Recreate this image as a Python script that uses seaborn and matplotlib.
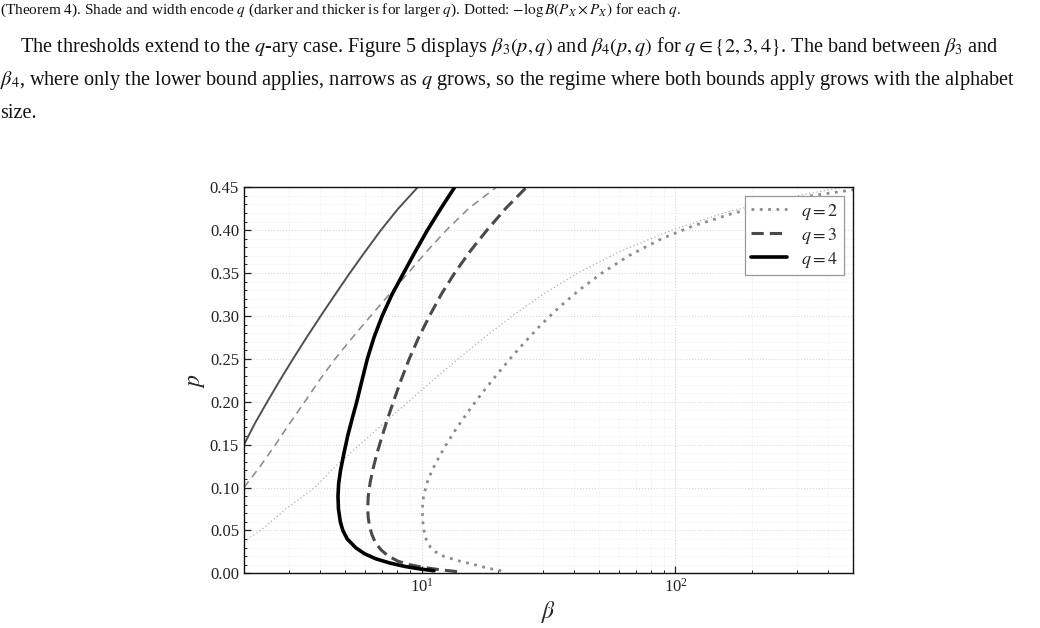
import numpy as np
import pandas as pd
import matplotlib
matplotlib.use("Agg")
import matplotlib.pyplot as plt
import seaborn as sns
from matplotlib.ticker import MultipleLocator, LogLocator, NullFormatter

# ---- data ----
# thick curves (one per q)
p_q2 = [0.003, 0.006, 0.010, 0.015, 0.020, 0.025, 0.030, 0.040, 0.050, 0.060, 0.075, 0.090,
        0.105, 0.120, 0.135, 0.150, 0.170, 0.190, 0.210, 0.230, 0.250, 0.270, 0.290, 0.310,
        0.330, 0.350, 0.370, 0.390, 0.405, 0.420, 0.432, 0.440, 0.447]
b_q2 = [20.6, 18.2, 16.2, 13.8, 12.2, 11.35, 10.86, 10.42, 10.23, 10.12, 10.07, 10.19,
        10.5, 11.0, 11.7, 12.5, 13.8, 15.4, 17.3, 19.6, 22.3, 25.6, 29.6, 34.8,
        41.7, 51.3, 65.3, 88.1, 117.5, 170.0, 251.0, 339.0, 500.0]

p_q3 = [0.002, 0.004, 0.007, 0.010, 0.014, 0.020, 0.027, 0.035, 0.045, 0.055, 0.065, 0.075,
        0.090, 0.105, 0.120, 0.140, 0.160, 0.180, 0.200, 0.225, 0.250, 0.275, 0.300, 0.325,
        0.350, 0.375, 0.400, 0.425, 0.450]
b_q3 = [13.8, 11.9, 10.1, 9.0, 8.1, 7.4, 6.95, 6.6, 6.38, 6.24, 6.17, 6.14,
        6.17, 6.27, 6.42, 6.68, 7.0, 7.35, 7.75, 8.3, 8.95, 9.75, 10.75, 11.95,
        13.5, 15.5, 18.1, 21.4, 25.9]

p_q4 = [0.003, 0.005, 0.008, 0.012, 0.017, 0.023, 0.030, 0.040, 0.050, 0.060, 0.075, 0.090,
        0.105, 0.120, 0.140, 0.160, 0.180, 0.200, 0.225, 0.250, 0.275, 0.300, 0.325, 0.350,
        0.375, 0.400, 0.425, 0.450]
b_q4 = [11.2, 9.9, 8.6, 7.5, 6.6, 5.95, 5.5, 5.1, 4.9, 4.79, 4.71, 4.69,
        4.72, 4.8, 4.95, 5.12, 5.33, 5.56, 5.83, 6.12, 6.5, 7.0, 7.65, 8.5,
        9.45, 10.55, 11.9, 13.5]

# thin curves (one per q)
p_t2 = [0.037, 0.05, 0.075, 0.10, 0.125, 0.15, 0.175, 0.20, 0.225, 0.25, 0.275, 0.30,
        0.325, 0.35, 0.375, 0.40, 0.42, 0.435, 0.45]
b_t2 = [2.0, 2.33, 2.92, 3.80, 4.59, 5.71, 7.11, 8.87, 11.09, 13.96, 17.7, 22.8,
        30.0, 41.2, 60.3, 96.6, 155.0, 245.0, 457.0]

p_t3 = [0.10, 0.125, 0.15, 0.175, 0.20, 0.225, 0.25, 0.275, 0.30, 0.325, 0.35, 0.375,
        0.40, 0.425, 0.45]
b_t3 = [2.0, 2.32, 2.66, 3.03, 3.47, 3.96, 4.57, 5.35, 6.31, 7.46, 8.85, 10.47,
        12.53, 15.3, 19.7]

p_t4 = [0.15, 0.175, 0.20, 0.225, 0.25, 0.275, 0.30, 0.325, 0.35, 0.375, 0.40, 0.425, 0.45]
b_t4 = [2.0, 2.21, 2.47, 2.77, 3.12, 3.53, 4.01, 4.57, 5.22, 6.0, 6.92, 8.09, 9.66]

q_labels = ["$q=2$", "$q=3$", "$q=4$"]
y_ticks = [0.00, 0.05, 0.10, 0.15, 0.20, 0.25, 0.30, 0.35, 0.40, 0.45]

caption = (r"(Theorem 4). Shade and width encode $q$ (darker and thicker is for larger $q$). "
           r"Dotted: $-\log B(P_X \times P_X)$ for each $q$.")
para1 = (r"The thresholds extend to the $q$-ary case. Figure 5 displays $\beta_3(p,q)$ and "
         r"$\beta_4(p,q)$ for $q \in \{2,3,4\}$. The band between $\beta_3$ and")
para2 = (r"$\beta_4$, where only the lower bound applies, narrows as $q$ grows, so the regime "
         r"where both bounds apply grows with the alphabet")
para3 = "size."

# ---- styling ----
sns.set_theme(style="white")
plt.rcParams["font.family"] = ["Liberation Serif", "DejaVu Serif"]
plt.rcParams["mathtext.fontset"] = "stix"

fig = plt.figure(figsize=(10.4, 6.28), dpi=100)
ax = fig.add_axes([0.2346, 0.0871, 0.8202 - 0.2346, 0.7018 - 0.0871])

def draw(b, p, color, lw, ls, label=None):
    df = pd.DataFrame({"beta": b, "p": p})
    sns.lineplot(data=df, x="beta", y="p", sort=False, estimator=None, ax=ax,
                 color=color, linewidth=lw, linestyle=ls, label=label)

# thin curves
draw(b_t2, p_t2, "#b0b0b0", 0.9, (0, (1, 2)))
draw(b_t3, p_t3, "#888888", 1.1, (0, (5, 3.5)))
draw(b_t4, p_t4, "#505050", 1.4, "-")
# thick curves
draw(b_q2, p_q2, "#8c8c8c", 2.0, (0, (1, 2)), q_labels[0])
draw(b_q3, p_q3, "#4a4a4a", 2.2, (0, (4, 2)), q_labels[1])
draw(b_q4, p_q4, "#000000", 2.6, "-", q_labels[2])

ax.set_xscale("log")
ax.set_xlim(2, 500)
ax.set_ylim(0, 0.45)
ax.set_yticks(y_ticks)
ax.set_yticklabels([f"{v:.2f}" for v in y_ticks])
ax.yaxis.set_minor_locator(MultipleLocator(0.01))
ax.xaxis.set_major_locator(LogLocator(base=10))
ax.xaxis.set_minor_locator(LogLocator(base=10, subs=np.arange(2, 10)))
ax.xaxis.set_minor_formatter(NullFormatter())
ax.tick_params(which="both", direction="in", top=False, right=False,
               left=True, bottom=True, labelsize=12, colors="#222222")
ax.tick_params(which="major", length=5, width=0.9)
ax.tick_params(which="minor", length=2.5, width=0.7)
ax.grid(which="major", linestyle=":", color="#d8d8d8", linewidth=0.8)
ax.grid(which="minor", linestyle=":", color="#ececec", linewidth=0.6)
for s in ax.spines.values():
    s.set_color("#111111")
    s.set_linewidth(1.0)

ax.set_xlabel(r"$\beta$", fontsize=17, labelpad=2)
ax.set_ylabel(r"$p$", fontsize=17, labelpad=2)

leg = ax.legend(loc="upper right", fontsize=13, frameon=True, fancybox=False,
                framealpha=1, edgecolor="#999999", borderaxespad=0.5,
                handlelength=2.0, borderpad=0.3, labelspacing=0.22, handletextpad=0.8)
leg.get_frame().set_linewidth(0.9)

# ---- surrounding page text ----
fig.text(0.0, 1 - 10 / 628, caption, fontsize=11, ha="left", va="center", color="#111111")
fig.text(20 / 1040, 1 - 47 / 628, para1, fontsize=14.6, ha="left", va="center", color="#111111")
fig.text(0.0, 1 - 81 / 628, para2, fontsize=14.6, ha="left", va="center", color="#111111")
fig.text(0.0, 1 - 114 / 628, para3, fontsize=14.6, ha="left", va="center", color="#111111")

fig.savefig("out.png", dpi=100)
